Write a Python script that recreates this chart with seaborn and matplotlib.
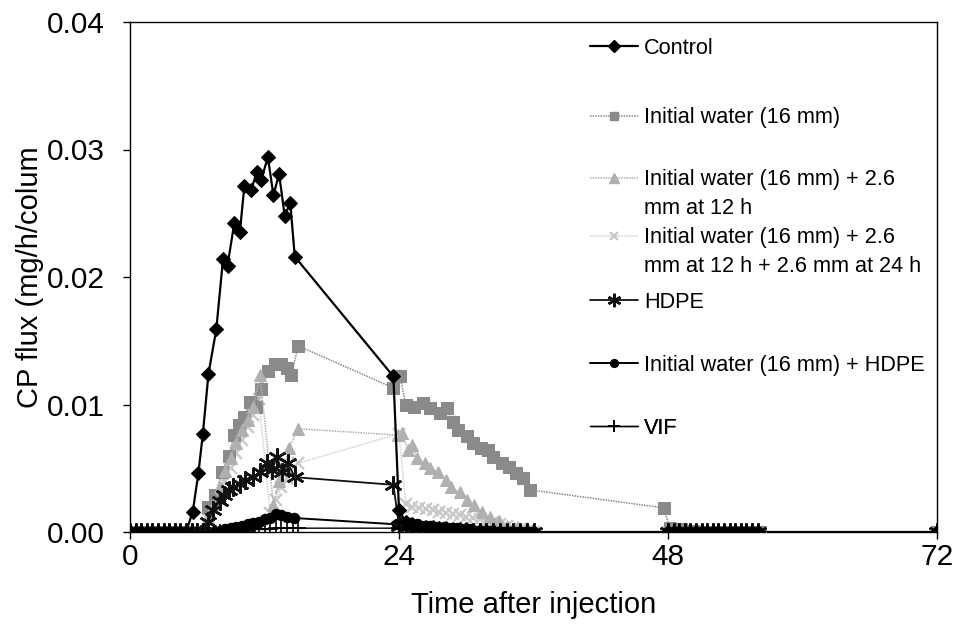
import numpy as np
import pandas as pd
import matplotlib
matplotlib.use("Agg")
import matplotlib.pyplot as plt
from matplotlib.lines import Line2D
import seaborn as sns

# ---------------- data ----------------
t_control = [0.0, 0.5, 1.0, 1.5, 2.0, 2.5, 3.0, 3.5, 4.0, 4.5, 5.0,
             5.6, 6.1, 6.5, 7.0, 7.7, 8.3, 8.7, 9.3, 9.8, 10.2, 10.8, 11.3, 11.7,
             12.3, 12.8, 13.3, 13.8, 14.3, 14.7, 23.5, 24.0,
             24.6, 25.2, 25.8, 26.4, 27.0, 27.6, 28.2, 28.8, 29.4, 30.0, 30.6,
             31.2, 31.8, 32.4, 33.0, 33.6, 34.2, 34.8, 35.4, 36.0,
             48.0, 48.5, 49.0, 49.5, 50.0, 50.5, 51.0, 51.5, 52.0, 52.5, 53.0,
             53.5, 54.0, 54.5, 55.0, 55.5, 56.0, 72.0]
y_control = [0, 0, 0, 0, 0, 0, 0, 0, 0, 0, 0,
             0.0016, 0.0046, 0.0077, 0.0124, 0.0159, 0.0214, 0.0209, 0.0242, 0.0235,
             0.0271, 0.0268, 0.0282, 0.0276, 0.0294, 0.0264, 0.0281, 0.0248, 0.0258,
             0.0216, 0.0122, 0.0017,
             0.0008, 0.0006, 0.0005, 0.0004, 0.0004, 0.0003, 0.0003, 0.0002, 0.0002,
             0.0002, 0.0001, 0.0001, 0.0001, 0.0001, 0, 0, 0, 0, 0, 0,
             0, 0, 0, 0, 0, 0, 0, 0, 0, 0, 0, 0, 0, 0, 0, 0, 0, 0]

t_water = [0.0, 0.5, 1.0, 1.5, 2.0, 2.5, 3.0, 3.5, 4.0, 4.5, 5.0, 5.5, 6.0, 6.5,
           7.0, 7.6, 8.2, 8.8, 9.3, 9.7, 10.2, 10.7, 11.2, 11.7, 12.3, 12.9, 13.5,
           14.0, 14.4, 15.0, 23.5, 24.1,
           24.6, 25.3, 26.1, 26.8, 27.7, 28.3, 28.8, 29.3, 30.1, 30.6, 31.3, 31.9,
           32.4, 33.2, 33.8, 34.4, 35.1, 35.7, 47.6,
           48.2, 48.7, 49.2, 49.7, 50.2, 50.7, 51.2, 51.7, 52.2, 52.7, 53.2, 53.7,
           54.2, 54.7, 55.2, 55.7, 56.2, 72.0]
y_water = [0, 0, 0, 0, 0, 0, 0, 0, 0, 0, 0, 0, 0, 0,
           0.0020, 0.0029, 0.0047, 0.0060, 0.0076, 0.0084, 0.0090, 0.0102, 0.0098,
           0.0112, 0.0126, 0.0132, 0.0132, 0.0129, 0.0123, 0.0146, 0.0113, 0.0122,
           0.0100, 0.0098, 0.0101, 0.0097, 0.0093, 0.0097, 0.0086, 0.0080, 0.0075,
           0.0070, 0.0066, 0.0064, 0.0059, 0.0054, 0.0051, 0.0046, 0.0042, 0.0033,
           0.0019,
           0.0003, 0.0002, 0.0002, 0.0001, 0.0001, 0, 0, 0, 0, 0, 0, 0, 0, 0, 0, 0,
           0, 0]

t_water12 = [0.0, 0.5, 1.0, 1.5, 2.0, 2.5, 3.0, 3.5, 4.0, 4.5, 5.0, 5.5, 6.0, 6.5,
             7.0, 7.5, 8.0, 8.5, 9.0, 9.5, 10.0, 10.5, 11.0, 11.6, 12.8, 13.3,
             13.8, 14.2, 15.0, 23.9,
             24.3, 24.8, 25.2, 25.6, 26.3, 26.8, 27.5, 28.2, 28.6, 29.4, 30.1, 30.7,
             31.4, 32.1, 32.9, 33.6, 34.5, 35.4, 36.0,
             48.0, 48.5, 49.0, 49.5, 50.0, 50.5, 51.0, 51.5, 52.0, 52.5, 53.0,
             53.5, 54.0, 54.5, 55.0, 55.5, 56.0, 72.0]
y_water12 = [0, 0, 0, 0, 0, 0, 0, 0, 0, 0, 0, 0, 0, 0,
             0.0012, 0.0022, 0.0035, 0.0048, 0.0058, 0.0070, 0.0080, 0.0088, 0.0098,
             0.0123, 0.0021, 0.0040, 0.0052, 0.0066, 0.0081, 0.0076,
             0.0078, 0.0064, 0.0068, 0.0058, 0.0054, 0.0050, 0.0047, 0.0041, 0.0035,
             0.0031, 0.0025, 0.0021, 0.0016, 0.0012, 0.0009, 0.0005, 0.0003, 0.0003,
             0,
             0, 0, 0, 0, 0, 0, 0, 0, 0, 0, 0, 0, 0, 0, 0, 0, 0, 0]

t_water1224 = [0.0, 0.5, 1.0, 1.5, 2.0, 2.5, 3.0, 3.5, 4.0, 4.5, 5.0, 5.5, 6.0, 6.5,
               7.0, 7.5, 8.0, 8.5, 9.0, 9.5, 10.0, 10.5, 11.0, 11.5, 12.5, 13.0,
               13.5, 14.0, 15.0, 24.0,
               24.6, 25.2, 25.8, 26.4, 27.0, 27.6, 28.2, 28.8, 29.4, 30.0, 30.6,
               31.2, 31.8, 32.4, 33.0, 33.6, 34.2, 34.8, 35.4, 36.0,
               48.0, 48.5, 49.0, 49.5, 50.0, 50.5, 51.0, 51.5, 52.0, 52.5, 53.0,
               53.5, 54.0, 54.5, 55.0, 55.5, 56.0, 72.0]
y_water1224 = [0, 0, 0, 0, 0, 0, 0, 0, 0, 0, 0, 0, 0, 0,
               0.0010, 0.0018, 0.0028, 0.0040, 0.0050, 0.0062, 0.0072, 0.0082,
               0.0092, 0.0104, 0.0015, 0.0025, 0.0035, 0.0042, 0.0054, 0.0077,
               0.0022, 0.0020, 0.0019, 0.0018, 0.0017, 0.0016, 0.0015, 0.0014, 0.0013,
               0.0012, 0.0011, 0.0010, 0.0009, 0.0008, 0.0006, 0.0005, 0.0003,
               0.0002, 0.0001, 0,
               0, 0, 0, 0, 0, 0, 0, 0, 0, 0, 0, 0, 0, 0, 0, 0, 0, 0]

t_hdpe = [0.0, 0.5, 1.0, 1.5, 2.0, 2.5, 3.0, 3.5, 4.0, 4.5, 5.0, 5.5, 6.0, 6.5,
          7.0, 7.4, 8.0, 8.4, 8.8, 9.2, 9.8, 10.3, 11.0, 11.6, 12.2, 12.7, 13.1,
          13.6, 14.1, 14.7, 23.5, 24.0,
          24.6, 25.2, 25.8, 26.4, 27.0, 27.6, 28.2, 28.8, 29.4, 30.0, 30.6,
          31.2, 31.8, 32.4, 33.0, 33.6, 34.2, 34.8, 35.4, 36.0,
          48.0, 48.5, 49.0, 49.5, 50.0, 50.5, 51.0, 51.5, 52.0, 52.5, 53.0,
          53.5, 54.0, 54.5, 55.0, 55.5, 56.0, 72.0]
y_hdpe = [0, 0, 0, 0, 0, 0, 0, 0, 0, 0, 0, 0, 0, 0,
          0.0008, 0.0017, 0.0024, 0.0029, 0.0033, 0.0035, 0.0038, 0.0041, 0.0043,
          0.0047, 0.0054, 0.0049, 0.0059, 0.0047, 0.0054, 0.0043, 0.0037, 0.0005,
          0.0003, 0.0002, 0.0002, 0.0001, 0.0001, 0, 0, 0, 0, 0, 0, 0, 0, 0, 0, 0,
          0, 0, 0, 0,
          0, 0, 0, 0, 0, 0, 0, 0, 0, 0, 0, 0, 0, 0, 0, 0, 0, 0]

t_water_hdpe = [0.0, 0.5, 1.0, 1.5, 2.0, 2.5, 3.0, 3.5, 4.0, 4.5, 5.0, 5.5, 6.0,
                6.5, 7.0, 7.5, 8.0, 8.5, 9.0, 9.5, 10.0, 10.5, 11.0, 11.5, 12.0,
                12.5, 13.0, 13.5, 14.0, 14.6, 23.8,
                24.4, 25.0, 25.6, 26.2, 26.8, 27.4, 28.0, 28.6, 29.2, 29.8, 30.4,
                31.0, 31.6, 32.2, 32.8, 33.4, 34.0, 34.6, 35.2, 35.8,
                48.0, 48.5, 49.0, 49.5, 50.0, 50.5, 51.0, 51.5, 52.0, 52.5, 53.0,
                53.5, 54.0, 54.5, 55.0, 55.5, 56.0, 72.0]
y_water_hdpe = [0, 0, 0, 0, 0, 0, 0, 0, 0, 0, 0, 0, 0, 0, 0, 0,
                0.0001, 0.0002, 0.0003, 0.0004, 0.0005, 0.0006, 0.0007, 0.0008,
                0.0010, 0.0011, 0.0014, 0.0013, 0.0012, 0.0011, 0.0006,
                0.0008, 0.0007, 0.0006, 0.0005, 0.0005, 0.0004, 0.0004, 0.0003,
                0.0003, 0.0002, 0.0002, 0.0001, 0.0001, 0.0001, 0, 0, 0, 0, 0, 0,
                0, 0, 0, 0, 0, 0, 0, 0, 0, 0, 0, 0, 0, 0, 0, 0, 0, 0]

t_vif = [0.0, 0.5, 1.0, 1.5, 2.0, 2.5, 3.0, 3.5, 4.0, 4.5, 5.0, 5.5, 6.0, 6.5,
         7.0, 7.5, 8.0, 8.5, 9.0, 9.5, 10.0, 10.5, 11.0, 11.5, 12.0, 12.5, 13.0,
         13.5, 14.0, 14.5, 15.0, 24.0,
         24.6, 25.2, 25.8, 26.4, 27.0, 27.6, 28.2, 28.8, 29.4, 30.0, 30.6,
         31.2, 31.8, 32.4, 33.0, 33.6, 34.2, 34.8, 35.4, 36.0,
         48.0, 48.5, 49.0, 49.5, 50.0, 50.5, 51.0, 51.5, 52.0, 52.5, 53.0,
         53.5, 54.0, 54.5, 55.0, 55.5, 56.0, 72.0]
y_vif = [0, 0, 0, 0, 0, 0, 0, 0, 0, 0, 0, 0, 0, 0, 0, 0, 0, 0, 0, 0,
         0.0001, 0.0001, 0.0002, 0.0002, 0.0002, 0.0002, 0.0003, 0.0003, 0.0003,
         0.0003, 0.0003, 0.0003,
         0.0002, 0.0002, 0.0001, 0.0001, 0, 0, 0, 0, 0, 0, 0, 0, 0, 0, 0, 0, 0,
         0, 0, 0,
         0, 0, 0, 0, 0, 0, 0, 0, 0, 0, 0, 0, 0, 0, 0, 0, 0, 0]

series_labels = ["Control",
                 "Initial water (16 mm)",
                 "Initial water (16 mm) + 2.6\nmm at 12 h",
                 "Initial water (16 mm) + 2.6\nmm at 12 h + 2.6 mm at 24 h",
                 "HDPE",
                 "Initial water (16 mm) + HDPE",
                 "VIF"]
x_ticks = [0, 24, 48, 72]
y_ticks = [0.00, 0.01, 0.02, 0.03, 0.04]
x_label = "Time after injection"
y_label = "CP flux (mg/h/colum"

# ---------------- styling ----------------
sns.set_style("ticks")
plt.rcParams["font.family"] = ["Liberation Sans", "DejaVu Sans"]
plt.rcParams["text.color"] = "black"
plt.rcParams["axes.labelcolor"] = "black"
plt.rcParams["xtick.color"] = "black"
plt.rcParams["ytick.color"] = "black"

styles = [
    dict(color="black", marker="D", markersize=7.5, linewidth=1.6, linestyle="-",
         markerfacecolor="black", markeredgecolor="black"),
    dict(color="#8a8a8a", marker="s", markersize=8, linewidth=1.1, linestyle=(0, (1, 0.7)),
         markerfacecolor="#8a8a8a", markeredgecolor="#8a8a8a"),
    dict(color="#b0b0b0", marker="^", markersize=9, linewidth=1.1, linestyle=(0, (1, 0.7)),
         markerfacecolor="#b0b0b0", markeredgecolor="#b0b0b0"),
    dict(color="#d0d0d0", marker="x", markersize=8.5, linewidth=1.1, linestyle=(0, (1, 0.7)),
         markeredgewidth=1.6, markeredgecolor="#c8c8c8"),
    dict(color="#111111", marker=(6, 2, 0), markersize=13, linewidth=1.3, linestyle="-",
         markeredgewidth=1.8, markeredgecolor="#111111"),
    dict(color="black", marker="o", markersize=7.5, linewidth=1.4, linestyle="-",
         markerfacecolor="black", markeredgecolor="black"),
    dict(color="black", marker="+", markersize=11, linewidth=1.0, linestyle="-",
         markeredgewidth=1.2, markeredgecolor="black"),
]

series = [(t_control, y_control), (t_water, y_water), (t_water12, y_water12),
          (t_water1224, y_water1224), (t_hdpe, y_hdpe), (t_water_hdpe, y_water_hdpe),
          (t_vif, y_vif)]

fig = plt.figure(figsize=(9.58, 6.30), dpi=100)
ax = fig.add_axes([130 / 958, 1 - 532 / 630, 807 / 958, 510 / 630])

zorders = [9, 3, 4, 2, 7, 6, 8]
for (tt, yy), st, lab, z in zip(series, styles, series_labels, zorders):
    df = pd.DataFrame({"t": tt, "y": yy})
    sns.lineplot(data=df, x="t", y="y", ax=ax, estimator=None, sort=False,
                 legend=False, zorder=z, **st)

ax.set_xlim(0, 72)
ax.set_ylim(0, 0.04)
ax.set_xticks(x_ticks)
ax.set_xticklabels([str(v) for v in x_ticks])
ax.set_yticks(y_ticks)
ax.set_yticklabels([f"{v:.2f}" for v in y_ticks])
ax.tick_params(axis="both", direction="out", length=5, width=1, colors="black",
               labelsize=21.5)
ax.tick_params(axis="y", pad=13)
ax.tick_params(axis="x", pad=3)
for sp in ax.spines.values():
    sp.set_visible(True)
    sp.set_color("black")
    sp.set_linewidth(1.0)

ax.set_xlabel(x_label, fontsize=21, color="black")
ax.set_ylabel(y_label, fontsize=21, color="black")
ax.xaxis.set_label_coords(0.5, -0.143)
ax.xaxis.label.set_va("center")
ax.yaxis.set_label_coords(-0.124, 0.5)
ax.yaxis.label.set_va("center")

# ---------------- legend (placed entry by entry) ----------------
leg_x = (590 - 130) / 807
text_x = (644 - 130) / 807
first_line_y = [48, 118, 180, 238, 302, 365, 428]
fs_leg = 15.6
for st, lab, py in zip(styles, series_labels, first_line_y):
    lines = lab.split("\n")
    h = Line2D([], [], **st)
    yy = (532 - py) / 510
    lg = ax.legend(handles=[h], labels=[lines[0]], loc="center left",
                   bbox_to_anchor=(leg_x, yy), frameon=False, fontsize=fs_leg,
                   handlelength=2.2, handletextpad=0.3, borderpad=0,
                   borderaxespad=0, numpoints=1, labelcolor="black",
                   markerscale=0.75)
    ax.add_artist(lg)
    if len(lines) > 1:
        ax.text(text_x, (532 - py - 28) / 510, lines[1], transform=ax.transAxes,
                fontsize=fs_leg, va="center", ha="left", color="black")

fig.savefig("out.png", dpi=100)
